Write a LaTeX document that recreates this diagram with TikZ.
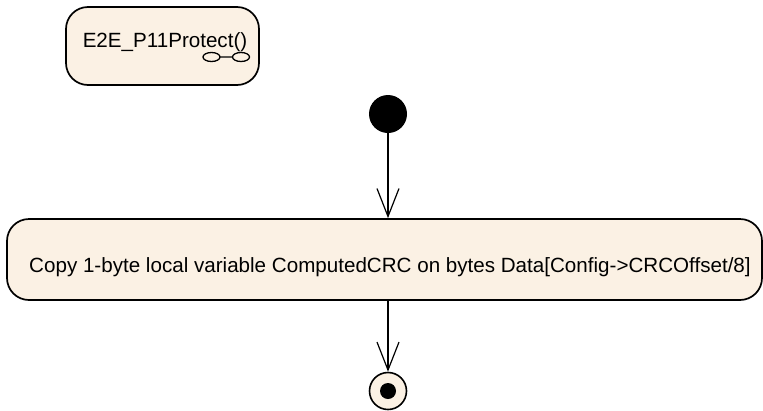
\documentclass[tikz,border=0pt]{standalone}
\usepackage{fontspec}
\setmainfont{Liberation Sans}
\usetikzlibrary{positioning,arrows.meta}
\definecolor{actfill}{RGB}{251,241,228}

\begin{document}
\begin{tikzpicture}[
  x=1pt, y=-1pt,
  font=\fontsize{20.6}{24}\selectfont,
  action/.style ={draw, line width=1.7pt, rounded corners=22pt, fill=actfill, inner sep=0pt},
  initial/.style={circle, fill=black, minimum size=38pt, inner sep=0pt},
  final/.style  ={circle, draw, line width=1.6pt, fill=actfill, minimum size=37pt, inner sep=0pt},
  dot/.style    ={circle, fill=black, minimum size=16pt, inner sep=0pt},
  flow/.style   ={-{Straight Barb[length=28pt, width=22pt, line width=1.2pt]}, line width=1.2pt},
  txt/.style    ={anchor=base, inner sep=0pt},
]
\useasboundingbox (0,0) rectangle (763,410);

\node[action, minimum width=193pt, minimum height=78pt] (protect) at (162.5,46) {};
\node[txt] (protectname) at (165,47) {E2E\_P11Protect()};
% call behaviour icon
\draw[line width=1.3pt] (211.5,57) ellipse [x radius=8.5, y radius=4.5]
  (220,57) -- (232.5,57)
  (241,57) ellipse [x radius=8.5, y radius=4.5];

\node[initial] (start) at (388,114) {};

\node[action, minimum width=755pt, minimum height=81pt] (copy) at (384.5,259.5) {};
\node[txt] (copytext) at (390,272)
  {Copy 1-byte local variable ComputedCRC on bytes Data[Config->CRCOffset/8]};

\node[final] (stop) at (388,391) {};
\node[dot] (stopdot) at (stop) {};

\draw[flow] (start) -- (start |- copy.north);
\draw[flow] (start |- copy.south) -- (stop);

\end{tikzpicture}
\end{document}
